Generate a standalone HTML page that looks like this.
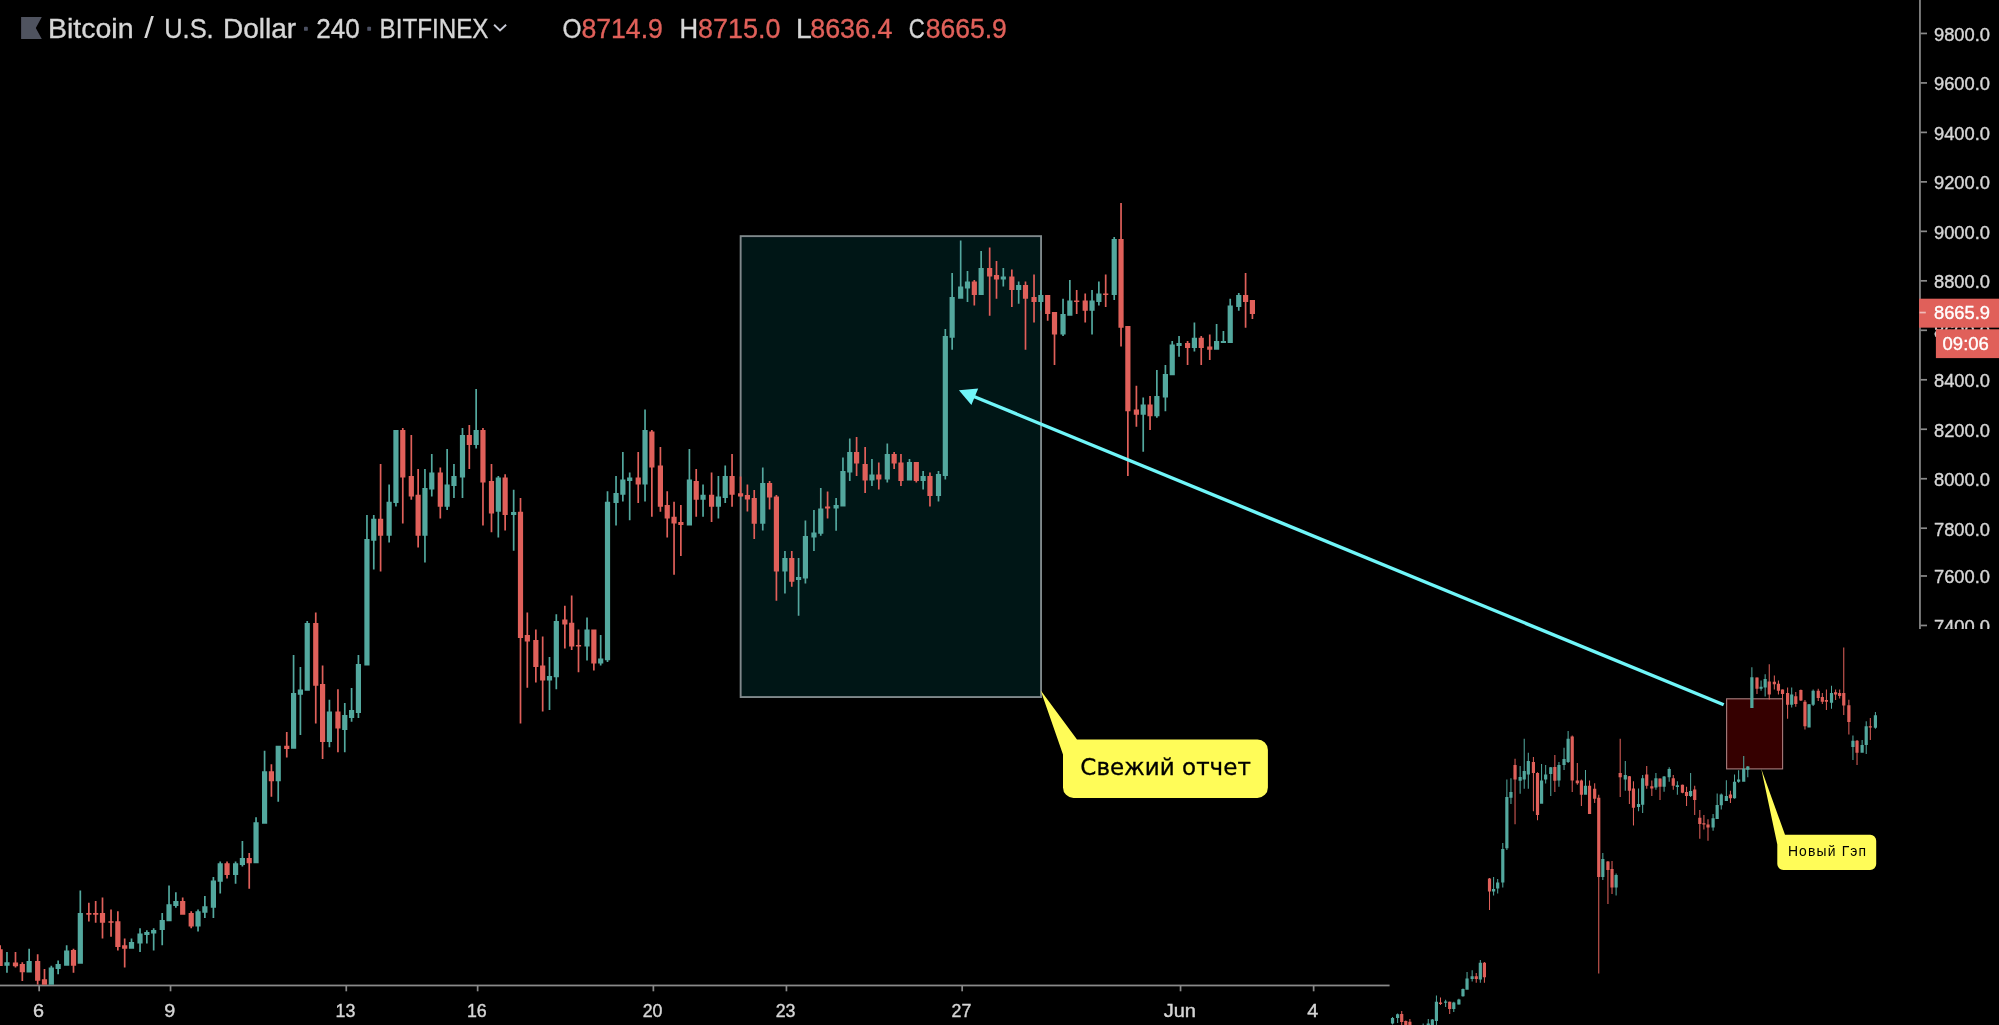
<!DOCTYPE html>
<html><head><meta charset="utf-8"><title>Bitcoin / U.S. Dollar 240 BITFINEX</title>
<style>html,body{margin:0;padding:0;background:#000;width:1999px;height:1025px;overflow:hidden}svg{display:block}text{white-space:pre}</style>
</head><body>
<svg width="1999" height="1025" viewBox="0 0 1999 1025">
<defs><filter id="soft" x="0" y="0" width="1999" height="1025" filterUnits="userSpaceOnUse"><feGaussianBlur stdDeviation="0.5"/></filter><clipPath id="mainclip"><rect x="0" y="0" width="1919" height="984.8"/></clipPath><clipPath id="axclip"><rect x="1900" y="0" width="99" height="628.9"/></clipPath></defs>
<rect width="1999" height="1025" fill="#000"/>
<g filter="url(#soft)">
<g clip-path="url(#axclip)"><rect x="1919.1" y="0" width="1.7" height="629" fill="#8A8A8A"/><rect x="1920.5" y="32.59" width="6.5" height="1.7" fill="#8A8A8A"/><text x="1934.0" y="40.89" font-family="'Liberation Sans', sans-serif" font-size="19" fill="#D6D6D6" text-anchor="start" textLength="56" lengthAdjust="spacingAndGlyphs" stroke="#D6D6D6" stroke-width="0.4">9800.0</text>
<rect x="1920.5" y="82.07" width="6.5" height="1.7" fill="#8A8A8A"/><text x="1934.0" y="90.37" font-family="'Liberation Sans', sans-serif" font-size="19" fill="#D6D6D6" text-anchor="start" textLength="56" lengthAdjust="spacingAndGlyphs" stroke="#D6D6D6" stroke-width="0.4">9600.0</text>
<rect x="1920.5" y="131.54" width="6.5" height="1.7" fill="#8A8A8A"/><text x="1934.0" y="139.84" font-family="'Liberation Sans', sans-serif" font-size="19" fill="#D6D6D6" text-anchor="start" textLength="56" lengthAdjust="spacingAndGlyphs" stroke="#D6D6D6" stroke-width="0.4">9400.0</text>
<rect x="1920.5" y="181.02" width="6.5" height="1.7" fill="#8A8A8A"/><text x="1934.0" y="189.32" font-family="'Liberation Sans', sans-serif" font-size="19" fill="#D6D6D6" text-anchor="start" textLength="56" lengthAdjust="spacingAndGlyphs" stroke="#D6D6D6" stroke-width="0.4">9200.0</text>
<rect x="1920.5" y="230.50" width="6.5" height="1.7" fill="#8A8A8A"/><text x="1934.0" y="238.80" font-family="'Liberation Sans', sans-serif" font-size="19" fill="#D6D6D6" text-anchor="start" textLength="56" lengthAdjust="spacingAndGlyphs" stroke="#D6D6D6" stroke-width="0.4">9000.0</text>
<rect x="1920.5" y="279.97" width="6.5" height="1.7" fill="#8A8A8A"/><text x="1934.0" y="288.27" font-family="'Liberation Sans', sans-serif" font-size="19" fill="#D6D6D6" text-anchor="start" textLength="56" lengthAdjust="spacingAndGlyphs" stroke="#D6D6D6" stroke-width="0.4">8800.0</text>
<rect x="1920.5" y="329.45" width="6.5" height="1.7" fill="#8A8A8A"/><text x="1934.0" y="337.75" font-family="'Liberation Sans', sans-serif" font-size="19" fill="#D6D6D6" text-anchor="start" textLength="56" lengthAdjust="spacingAndGlyphs" stroke="#D6D6D6" stroke-width="0.4">8600.0</text>
<rect x="1920.5" y="378.93" width="6.5" height="1.7" fill="#8A8A8A"/><text x="1934.0" y="387.23" font-family="'Liberation Sans', sans-serif" font-size="19" fill="#D6D6D6" text-anchor="start" textLength="56" lengthAdjust="spacingAndGlyphs" stroke="#D6D6D6" stroke-width="0.4">8400.0</text>
<rect x="1920.5" y="428.40" width="6.5" height="1.7" fill="#8A8A8A"/><text x="1934.0" y="436.70" font-family="'Liberation Sans', sans-serif" font-size="19" fill="#D6D6D6" text-anchor="start" textLength="56" lengthAdjust="spacingAndGlyphs" stroke="#D6D6D6" stroke-width="0.4">8200.0</text>
<rect x="1920.5" y="477.88" width="6.5" height="1.7" fill="#8A8A8A"/><text x="1934.0" y="486.18" font-family="'Liberation Sans', sans-serif" font-size="19" fill="#D6D6D6" text-anchor="start" textLength="56" lengthAdjust="spacingAndGlyphs" stroke="#D6D6D6" stroke-width="0.4">8000.0</text>
<rect x="1920.5" y="527.36" width="6.5" height="1.7" fill="#8A8A8A"/><text x="1934.0" y="535.66" font-family="'Liberation Sans', sans-serif" font-size="19" fill="#D6D6D6" text-anchor="start" textLength="56" lengthAdjust="spacingAndGlyphs" stroke="#D6D6D6" stroke-width="0.4">7800.0</text>
<rect x="1920.5" y="575.13" width="6.5" height="1.7" fill="#8A8A8A"/><text x="1934.0" y="583.43" font-family="'Liberation Sans', sans-serif" font-size="19" fill="#D6D6D6" text-anchor="start" textLength="56" lengthAdjust="spacingAndGlyphs" stroke="#D6D6D6" stroke-width="0.4">7600.0</text>
<rect x="1920.5" y="624.61" width="6.5" height="1.7" fill="#8A8A8A"/><text x="1934.0" y="632.91" font-family="'Liberation Sans', sans-serif" font-size="19" fill="#D6D6D6" text-anchor="start" textLength="56" lengthAdjust="spacingAndGlyphs" stroke="#D6D6D6" stroke-width="0.4">7400.0</text>
</g><rect x="1919.1" y="298.7" width="80" height="28.95" fill="#E0605A"/><rect x="1919.6" y="311.7" width="6.2" height="1.7" fill="#F0BCB9"/><text x="1934.0" y="319.0" font-family="'Liberation Sans', sans-serif" font-size="19" fill="#FFFFFF" text-anchor="start" textLength="56" lengthAdjust="spacingAndGlyphs" stroke="#FFFFFF" stroke-width="0.4">8665.9</text>
<rect x="1935.9" y="329.3" width="64" height="28.8" fill="#E0605A"/><text x="1942.6" y="350.0" font-family="'Liberation Sans', sans-serif" font-size="19" fill="#FFFFFF" text-anchor="start" textLength="46.2" lengthAdjust="spacingAndGlyphs" stroke="#FFFFFF" stroke-width="0.4">09:06</text>
<rect x="0" y="984.6" width="1389.6" height="1.75" fill="#8A8A8A"/><rect x="38.32" y="985" width="1.7" height="6.3" fill="#8A8A8A"/><text x="38.4" y="1017.0" font-family="'Liberation Sans', sans-serif" font-size="18.6" fill="#D6D6D6" text-anchor="middle" textLength="11" lengthAdjust="spacingAndGlyphs" stroke="#D6D6D6" stroke-width="0.4">6</text>
<rect x="169.69" y="985" width="1.7" height="6.3" fill="#8A8A8A"/><text x="169.7" y="1017.0" font-family="'Liberation Sans', sans-serif" font-size="18.6" fill="#D6D6D6" text-anchor="middle" textLength="11" lengthAdjust="spacingAndGlyphs" stroke="#D6D6D6" stroke-width="0.4">9</text>
<rect x="345.42" y="985" width="1.7" height="6.3" fill="#8A8A8A"/><text x="345.5" y="1017.0" font-family="'Liberation Sans', sans-serif" font-size="18.6" fill="#D6D6D6" text-anchor="middle" textLength="19.8" lengthAdjust="spacingAndGlyphs" stroke="#D6D6D6" stroke-width="0.4">13</text>
<rect x="476.79" y="985" width="1.7" height="6.3" fill="#8A8A8A"/><text x="476.8" y="1017.0" font-family="'Liberation Sans', sans-serif" font-size="18.6" fill="#D6D6D6" text-anchor="middle" textLength="19.8" lengthAdjust="spacingAndGlyphs" stroke="#D6D6D6" stroke-width="0.4">16</text>
<rect x="652.52" y="985" width="1.7" height="6.3" fill="#8A8A8A"/><text x="652.6" y="1017.0" font-family="'Liberation Sans', sans-serif" font-size="18.6" fill="#D6D6D6" text-anchor="middle" textLength="19.8" lengthAdjust="spacingAndGlyphs" stroke="#D6D6D6" stroke-width="0.4">20</text>
<rect x="785.59" y="985" width="1.7" height="6.3" fill="#8A8A8A"/><text x="785.6" y="1017.0" font-family="'Liberation Sans', sans-serif" font-size="18.6" fill="#D6D6D6" text-anchor="middle" textLength="19.8" lengthAdjust="spacingAndGlyphs" stroke="#D6D6D6" stroke-width="0.4">23</text>
<rect x="961.32" y="985" width="1.7" height="6.3" fill="#8A8A8A"/><text x="961.4" y="1017.0" font-family="'Liberation Sans', sans-serif" font-size="18.6" fill="#D6D6D6" text-anchor="middle" textLength="19.8" lengthAdjust="spacingAndGlyphs" stroke="#D6D6D6" stroke-width="0.4">27</text>
<rect x="1179.70" y="985" width="1.7" height="6.3" fill="#8A8A8A"/><text x="1179.8" y="1017.0" font-family="'Liberation Sans', sans-serif" font-size="18.6" fill="#D6D6D6" text-anchor="middle" textLength="32.3" lengthAdjust="spacingAndGlyphs" stroke="#D6D6D6" stroke-width="0.4">Jun</text>
<rect x="1312.78" y="985" width="1.7" height="6.3" fill="#8A8A8A"/><text x="1312.8" y="1017.0" font-family="'Liberation Sans', sans-serif" font-size="18.6" fill="#D6D6D6" text-anchor="middle" textLength="11" lengthAdjust="spacingAndGlyphs" stroke="#D6D6D6" stroke-width="0.4">4</text>
<path d="M21.1 17.1H41.8L35.8 28.1L41.8 39H21.1z" fill="#50525F"/><text x="48.0" y="37.6" font-family="'Liberation Sans', sans-serif" font-size="27.5" fill="#D6D6D6" text-anchor="start" textLength="85.5" lengthAdjust="spacingAndGlyphs" stroke="#D6D6D6" stroke-width="0.35">Bitcoin</text>
<text x="144.3" y="38.2" font-family="'Liberation Sans', sans-serif" font-size="30" fill="#D6D6D6" text-anchor="start" textLength="9.6" lengthAdjust="spacingAndGlyphs">/</text>
<text x="164.2" y="37.6" font-family="'Liberation Sans', sans-serif" font-size="27.5" fill="#D6D6D6" text-anchor="start" textLength="49.5" lengthAdjust="spacingAndGlyphs" stroke="#D6D6D6" stroke-width="0.35">U.S.</text>
<text x="222.9" y="37.6" font-family="'Liberation Sans', sans-serif" font-size="27.5" fill="#D6D6D6" text-anchor="start" textLength="73.3" lengthAdjust="spacingAndGlyphs" stroke="#D6D6D6" stroke-width="0.35">Dollar</text>
<text x="302.2" y="35.1" font-family="'Liberation Sans', sans-serif" font-size="22" fill="#4C5163" text-anchor="start" stroke="#4C5163" stroke-width="1.7" stroke-linejoin="round">·</text>
<text x="316.2" y="37.6" font-family="'Liberation Sans', sans-serif" font-size="27.5" fill="#D6D6D6" text-anchor="start" textLength="43.5" lengthAdjust="spacingAndGlyphs" stroke="#D6D6D6" stroke-width="0.35">240</text>
<text x="365.55" y="35.0" font-family="'Liberation Sans', sans-serif" font-size="22" fill="#4C5163" text-anchor="start" stroke="#4C5163" stroke-width="1.7" stroke-linejoin="round">·</text>
<text x="379.5" y="37.6" font-family="'Liberation Sans', sans-serif" font-size="27.5" fill="#D6D6D6" text-anchor="start" textLength="109" lengthAdjust="spacingAndGlyphs" stroke="#D6D6D6" stroke-width="0.35">BITFINEX</text>
<path d="M494.1 24.8L500 30.5L506.1 24.8" stroke="#C8CAD6" stroke-width="1.9" fill="none"/><text x="562.6" y="37.6" font-family="'Liberation Sans', sans-serif" font-size="27.5" fill="#D6D6D6" text-anchor="start" textLength="19.0" lengthAdjust="spacingAndGlyphs" stroke="#D6D6D6" stroke-width="0.35">O</text>
<text x="581.4" y="37.6" font-family="'Liberation Sans', sans-serif" font-size="27.5" fill="#E0605A" text-anchor="start" textLength="81.5" lengthAdjust="spacingAndGlyphs" stroke="#E0605A" stroke-width="0.35">8714.9</text>
<text x="679.6" y="37.6" font-family="'Liberation Sans', sans-serif" font-size="27.5" fill="#D6D6D6" text-anchor="start" textLength="18.6" lengthAdjust="spacingAndGlyphs" stroke="#D6D6D6" stroke-width="0.35">H</text>
<text x="698.1" y="37.6" font-family="'Liberation Sans', sans-serif" font-size="27.5" fill="#E0605A" text-anchor="start" textLength="82.4" lengthAdjust="spacingAndGlyphs" stroke="#E0605A" stroke-width="0.35">8715.0</text>
<text x="796.0" y="37.6" font-family="'Liberation Sans', sans-serif" font-size="27.5" fill="#D6D6D6" text-anchor="start" textLength="15.6" lengthAdjust="spacingAndGlyphs" stroke="#D6D6D6" stroke-width="0.35">L</text>
<text x="810.2" y="37.6" font-family="'Liberation Sans', sans-serif" font-size="27.5" fill="#E0605A" text-anchor="start" textLength="82.2" lengthAdjust="spacingAndGlyphs" stroke="#E0605A" stroke-width="0.35">8636.4</text>
<text x="908.8" y="37.6" font-family="'Liberation Sans', sans-serif" font-size="27.5" fill="#D6D6D6" text-anchor="start" textLength="16.0" lengthAdjust="spacingAndGlyphs" stroke="#D6D6D6" stroke-width="0.35">C</text>
<text x="925.7" y="37.6" font-family="'Liberation Sans', sans-serif" font-size="27.5" fill="#E0605A" text-anchor="start" textLength="81.2" lengthAdjust="spacingAndGlyphs" stroke="#E0605A" stroke-width="0.35">8665.9</text>
<rect x="740.65" y="236.15" width="300.4" height="460.9" fill="#031214" stroke="#7F898B" stroke-width="1.9"/><g clip-path="url(#mainclip)"><path fill="#52A89E" d="M6.11 952.1h1.7V972.7h-1.7zM28.29 948.7h1.7V972.5h-1.7zM50.47 965.8h1.7V988.8h-1.7zM57.29 960.6h1.7V974.3h-1.7zM65.82 945.3h1.7V965.8h-1.7zM79.47 890.6h1.7V963.8h-1.7zM130.66 938.6h1.7V948.7h-1.7zM139.19 928.2h1.7V952.1h-1.7zM146.01 930.2h1.7V943.5h-1.7zM152.83 928.2h1.7V950.5h-1.7zM161.37 913.1h1.7V945.3h-1.7zM168.19 885.4h1.7V921.3h-1.7zM175.01 892.2h1.7V907.8h-1.7zM197.19 909.4h1.7V931.6h-1.7zM204.02 895.9h1.7V917.9h-1.7zM212.55 876.9h1.7V917.9h-1.7zM219.37 861.6h1.7V893.4h-1.7zM234.73 861.6h1.7V883.7h-1.7zM241.55 841.0h1.7V866.5h-1.7zM255.20 817.2h1.7V863.3h-1.7zM263.73 750.7h1.7V823.8h-1.7zM277.38 745.8h1.7V801.8h-1.7zM292.73 655.0h1.7V748.7h-1.7zM299.56 667.0h1.7V735.1h-1.7zM306.38 621.0h1.7V690.7h-1.7zM328.56 699.7h1.7V747.3h-1.7zM343.92 703.1h1.7V752.3h-1.7zM350.74 687.9h1.7V721.7h-1.7zM357.57 655.0h1.7V718.1h-1.7zM366.10 515.1h1.7V665.4h-1.7zM372.92 515.1h1.7V569.5h-1.7zM388.28 484.4h1.7V542.5h-1.7zM395.10 430.0h1.7V506.5h-1.7zM424.10 469.0h1.7V562.5h-1.7zM430.93 454.0h1.7V496.5h-1.7zM446.28 449.0h1.7V510.1h-1.7zM453.11 464.0h1.7V498.1h-1.7zM461.64 428.0h1.7V498.1h-1.7zM475.29 389.0h1.7V448.6h-1.7zM497.47 476.0h1.7V537.5h-1.7zM512.82 489.7h1.7V550.7h-1.7zM548.65 657.0h1.7V709.9h-1.7zM555.47 614.2h1.7V689.3h-1.7zM586.18 617.6h1.7V660.4h-1.7zM599.83 635.0h1.7V665.4h-1.7zM606.66 491.3h1.7V662.0h-1.7zM615.19 476.0h1.7V525.5h-1.7zM622.01 452.0h1.7V501.5h-1.7zM628.84 472.6h1.7V520.3h-1.7zM644.19 409.4h1.7V501.5h-1.7zM688.55 449.0h1.7V525.5h-1.7zM702.20 484.4h1.7V516.7h-1.7zM717.55 476.0h1.7V518.5h-1.7zM724.38 465.6h1.7V503.1h-1.7zM761.91 467.4h1.7V530.5h-1.7zM784.09 551.1h1.7V593.5h-1.7zM797.74 558.1h1.7V615.7h-1.7zM804.56 520.5h1.7V583.5h-1.7zM813.10 510.0h1.7V551.1h-1.7zM819.92 488.0h1.7V535.7h-1.7zM835.27 498.0h1.7V530.7h-1.7zM842.10 457.4h1.7V506.6h-1.7zM848.92 438.4h1.7V481.0h-1.7zM871.10 459.0h1.7V486.0h-1.7zM886.46 443.6h1.7V482.6h-1.7zM908.64 459.0h1.7V480.6h-1.7zM922.29 471.0h1.7V489.6h-1.7zM937.64 471.0h1.7V501.6h-1.7zM944.47 329.1h1.7V479.4h-1.7zM951.29 273.0h1.7V349.7h-1.7zM959.82 240.6h1.7V298.7h-1.7zM966.64 271.0h1.7V302.1h-1.7zM980.29 251.0h1.7V295.1h-1.7zM1002.47 268.0h1.7V286.6h-1.7zM1017.83 281.6h1.7V303.7h-1.7zM1040.01 290.0h1.7V310.5h-1.7zM1062.19 298.7h1.7V336.1h-1.7zM1069.01 280.0h1.7V315.7h-1.7zM1091.19 290.0h1.7V334.5h-1.7zM1098.01 281.6h1.7V305.5h-1.7zM1113.37 237.0h1.7V300.1h-1.7zM1142.37 397.6h1.7V451.8h-1.7zM1156.02 370.1h1.7V417.7h-1.7zM1164.55 365.1h1.7V411.2h-1.7zM1171.38 341.1h1.7V375.3h-1.7zM1178.20 336.1h1.7V356.7h-1.7zM1193.56 322.5h1.7V351.5h-1.7zM1215.74 324.1h1.7V349.7h-1.7zM1222.56 331.1h1.7V343.1h-1.7zM1229.38 298.7h1.7V343.1h-1.7zM1237.91 293.0h1.7V310.7h-1.7zM4.36 962.2h5.2V965.8h-5.2zM26.54 960.9h5.2V972.5h-5.2zM48.72 967.5h5.2V988.8h-5.2zM55.54 964.1h5.2V969.0h-5.2zM64.07 950.5h5.2V965.8h-5.2zM77.72 913.1h5.2V963.8h-5.2zM128.91 942.1h5.2V948.7h-5.2zM137.44 933.4h5.2V943.5h-5.2zM144.26 932.0h5.2V935.0h-5.2zM151.08 930.0h5.2V933.4h-5.2zM159.62 919.9h5.2V930.0h-5.2zM166.44 904.3h5.2V921.3h-5.2zM173.26 901.0h5.2V905.9h-5.2zM195.44 911.2h5.2V926.5h-5.2zM202.27 906.2h5.2V912.8h-5.2zM210.80 880.4h5.2V907.8h-5.2zM217.62 863.3h5.2V881.8h-5.2zM232.98 863.3h5.2V875.0h-5.2zM239.80 858.1h5.2V864.9h-5.2zM253.45 822.2h5.2V863.3h-5.2zM261.98 771.2h5.2V823.8h-5.2zM275.63 745.8h5.2V781.3h-5.2zM290.98 693.1h5.2V748.7h-5.2zM297.81 689.5h5.2V694.7h-5.2zM304.63 623.0h5.2V690.7h-5.2zM326.81 711.5h5.2V741.9h-5.2zM342.17 715.1h5.2V729.9h-5.2zM348.99 710.1h5.2V718.1h-5.2zM355.82 664.0h5.2V713.1h-5.2zM364.35 539.1h5.2V665.4h-5.2zM371.17 518.7h5.2V540.7h-5.2zM386.53 501.7h5.2V535.7h-5.2zM393.35 430.0h5.2V503.1h-5.2zM422.35 487.9h5.2V535.7h-5.2zM429.18 472.6h5.2V489.5h-5.2zM444.53 484.4h5.2V506.7h-5.2zM451.36 476.0h5.2V486.1h-5.2zM459.89 435.0h5.2V477.6h-5.2zM473.54 430.0h5.2V445.0h-5.2zM495.72 477.6h5.2V511.7h-5.2zM511.07 512.1h5.2V515.1h-5.2zM546.90 676.0h5.2V680.6h-5.2zM553.72 621.0h5.2V677.2h-5.2zM584.43 629.6h5.2V646.6h-5.2zM598.08 658.6h5.2V663.6h-5.2zM604.91 501.7h5.2V660.2h-5.2zM613.44 493.1h5.2V503.1h-5.2zM620.26 479.4h5.2V494.7h-5.2zM627.09 477.6h5.2V481.0h-5.2zM642.44 430.0h5.2V484.4h-5.2zM686.80 479.4h5.2V525.5h-5.2zM700.45 494.7h5.2V499.7h-5.2zM715.80 496.5h5.2V506.7h-5.2zM722.63 476.0h5.2V498.1h-5.2zM760.16 483.0h5.2V523.7h-5.2zM782.34 558.1h5.2V571.5h-5.2zM795.99 577.1h5.2V580.1h-5.2zM802.81 536.1h5.2V578.5h-5.2zM811.35 532.5h5.2V537.5h-5.2zM818.17 508.4h5.2V533.7h-5.2zM833.52 505.0h5.2V508.4h-5.2zM840.35 471.0h5.2V506.6h-5.2zM847.17 452.0h5.2V472.6h-5.2zM869.35 474.4h5.2V480.6h-5.2zM884.71 454.0h5.2V479.4h-5.2zM906.89 462.0h5.2V480.6h-5.2zM920.54 476.0h5.2V481.0h-5.2zM935.89 474.0h5.2V496.0h-5.2zM942.72 336.1h5.2V476.0h-5.2zM949.54 297.1h5.2V337.7h-5.2zM958.07 286.6h5.2V298.7h-5.2zM964.89 281.6h5.2V288.4h-5.2zM978.54 268.0h5.2V295.1h-5.2zM1000.72 276.4h5.2V279.6h-5.2zM1016.08 285.0h5.2V290.0h-5.2zM1038.26 295.1h5.2V302.1h-5.2zM1060.44 314.1h5.2V334.5h-5.2zM1067.26 300.5h5.2V315.7h-5.2zM1089.44 300.5h5.2V310.7h-5.2zM1096.26 293.4h5.2V302.1h-5.2zM1111.62 239.0h5.2V295.1h-5.2zM1140.62 404.5h5.2V414.8h-5.2zM1154.27 396.0h5.2V416.2h-5.2zM1162.80 374.0h5.2V397.6h-5.2zM1169.63 344.5h5.2V375.3h-5.2zM1176.45 343.1h5.2V346.1h-5.2zM1191.81 337.7h5.2V348.1h-5.2zM1213.99 341.1h5.2V349.7h-5.2zM1220.81 341.1h5.2V343.1h-5.2zM1227.63 305.5h5.2V343.1h-5.2zM1236.16 295.1h5.2V307.1h-5.2z"/>
<path fill="#E0605A" d="M-0.71 945.3h1.7V965.9h-1.7zM14.64 952.1h1.7V967.5h-1.7zM21.47 962.2h1.7V981.0h-1.7zM36.82 954.2h1.7V984.7h-1.7zM43.64 969.1h1.7V988.8h-1.7zM72.65 948.7h1.7V972.7h-1.7zM88.00 902.7h1.7V921.6h-1.7zM94.83 901.0h1.7V922.8h-1.7zM101.65 897.5h1.7V938.6h-1.7zM110.18 909.4h1.7V936.8h-1.7zM117.01 911.2h1.7V950.5h-1.7zM123.83 938.6h1.7V967.5h-1.7zM181.84 897.5h1.7V914.7h-1.7zM190.37 911.2h1.7V928.2h-1.7zM226.20 861.6h1.7V878.6h-1.7zM248.38 853.1h1.7V888.7h-1.7zM270.56 764.3h1.7V796.8h-1.7zM285.91 732.1h1.7V757.5h-1.7zM314.91 612.6h1.7V723.5h-1.7zM321.74 665.4h1.7V759.1h-1.7zM337.09 689.3h1.7V752.3h-1.7zM379.75 464.0h1.7V571.5h-1.7zM401.93 428.0h1.7V523.5h-1.7zM410.46 435.0h1.7V499.7h-1.7zM417.28 469.0h1.7V547.5h-1.7zM439.46 467.4h1.7V518.5h-1.7zM468.46 425.0h1.7V469.0h-1.7zM482.11 428.0h1.7V525.5h-1.7zM490.64 464.0h1.7V532.3h-1.7zM504.29 474.2h1.7V530.5h-1.7zM519.65 498.1h1.7V723.5h-1.7zM526.47 612.6h1.7V687.7h-1.7zM535.00 629.6h1.7V682.4h-1.7zM541.83 636.4h1.7V711.5h-1.7zM564.00 605.8h1.7V648.4h-1.7zM570.83 595.4h1.7V650.0h-1.7zM577.65 629.6h1.7V672.2h-1.7zM593.01 629.6h1.7V670.6h-1.7zM637.37 452.0h1.7V503.1h-1.7zM651.02 430.0h1.7V516.7h-1.7zM659.55 447.0h1.7V511.7h-1.7zM666.37 491.3h1.7V537.5h-1.7zM673.20 501.7h1.7V574.7h-1.7zM680.02 504.9h1.7V556.1h-1.7zM695.37 469.0h1.7V516.7h-1.7zM710.73 472.6h1.7V521.9h-1.7zM731.20 454.0h1.7V506.7h-1.7zM739.73 476.4h1.7V496.8h-1.7zM746.56 484.6h1.7V511.6h-1.7zM753.38 490.0h1.7V539.1h-1.7zM768.74 481.0h1.7V509.6h-1.7zM775.56 495.0h1.7V600.7h-1.7zM790.92 551.1h1.7V586.7h-1.7zM826.74 491.4h1.7V518.6h-1.7zM855.75 437.0h1.7V476.0h-1.7zM864.28 447.0h1.7V493.0h-1.7zM877.93 462.4h1.7V489.6h-1.7zM893.28 452.0h1.7V469.0h-1.7zM900.11 454.0h1.7V486.0h-1.7zM915.46 462.0h1.7V482.6h-1.7zM929.11 472.6h1.7V506.6h-1.7zM973.47 280.0h1.7V305.5h-1.7zM988.82 247.4h1.7V315.7h-1.7zM995.65 261.0h1.7V298.7h-1.7zM1011.00 269.4h1.7V307.1h-1.7zM1024.65 281.6h1.7V349.7h-1.7zM1033.18 274.6h1.7V322.5h-1.7zM1046.83 295.1h1.7V320.7h-1.7zM1053.66 312.1h1.7V365.1h-1.7zM1075.83 290.0h1.7V314.1h-1.7zM1084.37 293.4h1.7V322.5h-1.7zM1104.84 274.6h1.7V307.1h-1.7zM1120.19 203.0h1.7V346.5h-1.7zM1127.02 326.1h1.7V476.0h-1.7zM1135.55 385.7h1.7V426.8h-1.7zM1149.20 396.0h1.7V429.9h-1.7zM1186.73 341.1h1.7V365.1h-1.7zM1200.38 336.1h1.7V365.1h-1.7zM1208.91 334.5h1.7V360.1h-1.7zM1244.74 273.0h1.7V327.7h-1.7zM1251.56 300.1h1.7V319.1h-1.7zM-2.46 949.3h5.2V965.9h-5.2zM12.89 962.5h5.2V966.2h-5.2zM19.72 964.1h5.2V972.2h-5.2zM35.07 960.9h5.2V980.7h-5.2zM41.89 979.3h5.2V988.8h-5.2zM70.90 950.1h5.2V965.8h-5.2zM86.25 913.1h5.2V914.7h-5.2zM93.08 913.1h5.2V914.7h-5.2zM99.90 913.1h5.2V922.8h-5.2zM108.43 921.3h5.2V922.8h-5.2zM115.26 921.3h5.2V946.9h-5.2zM122.08 945.3h5.2V948.7h-5.2zM180.09 901.0h5.2V914.7h-5.2zM188.62 913.1h5.2V926.6h-5.2zM224.45 863.3h5.2V875.0h-5.2zM246.63 858.1h5.2V863.3h-5.2zM268.81 771.2h5.2V781.3h-5.2zM284.16 745.8h5.2V749.0h-5.2zM313.16 623.0h5.2V685.7h-5.2zM319.99 684.0h5.2V741.9h-5.2zM335.34 711.5h5.2V728.5h-5.2zM378.00 518.7h5.2V535.7h-5.2zM400.18 430.0h5.2V477.6h-5.2zM408.71 476.0h5.2V496.5h-5.2zM415.53 494.7h5.2V535.7h-5.2zM437.71 472.6h5.2V506.7h-5.2zM466.71 435.0h5.2V445.0h-5.2zM480.36 430.0h5.2V482.6h-5.2zM488.89 481.0h5.2V513.5h-5.2zM502.54 477.6h5.2V515.1h-5.2zM517.90 511.7h5.2V638.0h-5.2zM524.72 635.0h5.2V641.6h-5.2zM533.25 640.0h5.2V667.0h-5.2zM540.08 665.4h5.2V680.6h-5.2zM562.25 619.4h5.2V624.4h-5.2zM569.08 622.8h5.2V646.6h-5.2zM575.90 645.0h5.2V646.6h-5.2zM591.26 629.6h5.2V663.6h-5.2zM635.62 477.6h5.2V484.4h-5.2zM649.27 431.6h5.2V467.4h-5.2zM657.80 465.6h5.2V506.7h-5.2zM664.62 504.9h5.2V518.5h-5.2zM671.45 516.7h5.2V523.5h-5.2zM678.27 521.9h5.2V525.1h-5.2zM693.62 481.0h5.2V499.7h-5.2zM708.98 494.7h5.2V506.7h-5.2zM729.45 476.0h5.2V494.7h-5.2zM737.98 493.2h5.2V496.4h-5.2zM744.81 495.0h5.2V499.6h-5.2zM751.63 498.0h5.2V523.7h-5.2zM766.99 483.0h5.2V497.6h-5.2zM773.81 496.4h5.2V571.5h-5.2zM789.17 558.1h5.2V581.7h-5.2zM824.99 506.6h5.2V508.4h-5.2zM854.00 452.0h5.2V463.6h-5.2zM862.53 464.0h5.2V480.6h-5.2zM876.18 474.4h5.2V479.4h-5.2zM891.53 454.0h5.2V463.6h-5.2zM898.36 462.4h5.2V481.0h-5.2zM913.71 462.0h5.2V481.0h-5.2zM927.36 476.0h5.2V496.0h-5.2zM971.72 281.6h5.2V295.1h-5.2zM987.07 268.0h5.2V276.4h-5.2zM993.90 275.0h5.2V279.6h-5.2zM1009.25 276.4h5.2V290.0h-5.2zM1022.90 285.0h5.2V298.7h-5.2zM1031.43 297.1h5.2V302.1h-5.2zM1045.08 295.1h5.2V314.1h-5.2zM1051.91 312.1h5.2V334.5h-5.2zM1074.08 300.5h5.2V302.1h-5.2zM1082.62 300.5h5.2V310.7h-5.2zM1103.09 293.4h5.2V295.1h-5.2zM1118.44 239.0h5.2V327.7h-5.2zM1125.27 326.1h5.2V411.2h-5.2zM1133.80 409.6h5.2V414.8h-5.2zM1147.45 404.5h5.2V416.2h-5.2zM1184.98 343.1h5.2V348.1h-5.2zM1198.63 337.7h5.2V348.1h-5.2zM1207.16 346.5h5.2V349.7h-5.2zM1242.99 295.1h5.2V302.1h-5.2zM1249.81 300.1h5.2V314.1h-5.2z"/>
</g><path d="M1040.6 690.2L1077 739.5H1257.4A10.5 10.5 0 0 1 1267.9 750V787.4A10.5 10.5 0 0 1 1257.4 797.9H1073.5A10.5 10.5 0 0 1 1063 787.4V754.5z" fill="#FFFC58"/><text x="1080.3" y="775.2" font-family="'DejaVu Sans', sans-serif" font-size="23.2" fill="#000" text-anchor="start" textLength="170.5" lengthAdjust="spacingAndGlyphs" stroke="#000" stroke-width="0.3">Свежий отчет</text>
<path d="M1390 986.5V1025H1999V628.9H1915V986.5z" fill="#000"/><rect x="1726.6" y="698.8" width="56.0" height="70.1" fill="#360505" stroke="#A87C7C" stroke-width="1.1"/><path fill="#52A89E" d="M1392.02 1017.0h1.02V1024.5h-1.02zM1397.12 1013.5h1.02V1023.0h-1.02zM1418.56 1030.1h1.02V1055.1h-1.02zM1422.65 1023.5h1.02V1040.1h-1.02zM1427.75 1019.0h1.02V1035.1h-1.02zM1431.83 1019.0h1.02V1030.1h-1.02zM1435.92 995.5h1.02V1027.1h-1.02zM1445.11 999.8h1.02V1007.0h-1.02zM1453.27 1001.8h1.02V1012.0h-1.02zM1458.38 998.8h1.02V1004.8h-1.02zM1462.46 988.5h1.02V996.8h-1.02zM1466.54 972.0h1.02V989.8h-1.02zM1471.65 970.2h1.02V981.5h-1.02zM1479.82 960.0h1.02V982.8h-1.02zM1493.09 877.0h1.02V895.6h-1.02zM1497.17 879.0h1.02V893.6h-1.02zM1502.28 843.0h1.02V887.4h-1.02zM1506.36 779.4h1.02V850.1h-1.02zM1510.44 778.2h1.02V804.0h-1.02zM1519.63 766.0h1.02V793.8h-1.02zM1523.71 738.8h1.02V788.8h-1.02zM1527.80 752.8h1.02V788.8h-1.02zM1541.07 764.0h1.02V803.8h-1.02zM1545.15 765.0h1.02V783.5h-1.02zM1550.26 766.9h1.02V795.9h-1.02zM1558.43 762.1h1.02V786.7h-1.02zM1563.53 747.8h1.02V770.0h-1.02zM1567.61 731.0h1.02V762.9h-1.02zM1584.97 770.0h1.02V794.8h-1.02zM1602.32 853.0h1.02V880.0h-1.02zM1615.59 873.6h1.02V895.6h-1.02zM1624.78 761.0h1.02V790.7h-1.02zM1638.05 788.5h1.02V811.3h-1.02zM1642.14 775.0h1.02V812.9h-1.02zM1655.41 773.1h1.02V789.8h-1.02zM1663.58 776.0h1.02V791.7h-1.02zM1668.68 767.3h1.02V781.7h-1.02zM1676.85 781.3h1.02V794.8h-1.02zM1690.12 773.1h1.02V796.9h-1.02zM1712.58 814.0h1.02V830.7h-1.02zM1716.66 793.5h1.02V819.0h-1.02zM1720.75 793.5h1.02V809.6h-1.02zM1725.85 780.2h1.02V801.0h-1.02zM1734.02 774.4h1.02V798.8h-1.02zM1738.10 770.3h1.02V782.7h-1.02zM1743.21 756.1h1.02V781.7h-1.02zM1747.29 765.9h1.02V777.3h-1.02zM1751.37 667.3h1.02V707.9h-1.02zM1760.56 680.6h1.02V690.7h-1.02zM1764.64 674.3h1.02V696.5h-1.02zM1791.19 687.6h1.02V707.4h-1.02zM1808.54 704.0h1.02V727.4h-1.02zM1812.63 689.6h1.02V705.9h-1.02zM1831.00 685.7h1.02V708.7h-1.02zM1852.44 735.6h1.02V759.9h-1.02zM1861.63 739.9h1.02V752.7h-1.02zM1865.71 721.2h1.02V754.0h-1.02zM1874.90 712.1h1.02V728.7h-1.02zM1390.93 1018.0h3.2V1023.5h-3.2zM1396.03 1014.3h3.2V1018.0h-3.2zM1417.47 1035.1h3.2V1050.1h-3.2zM1421.56 1025.1h3.2V1035.1h-3.2zM1426.66 1023.5h3.2V1030.1h-3.2zM1430.74 1019.5h3.2V1025.1h-3.2zM1434.83 1001.8h3.2V1021.0h-3.2zM1444.02 1001.5h3.2V1002.8h-3.2zM1452.18 1002.5h3.2V1009.0h-3.2zM1457.29 999.5h3.2V1004.5h-3.2zM1461.37 989.0h3.2V996.2h-3.2zM1465.45 978.5h3.2V989.8h-3.2zM1470.56 976.2h3.2V979.0h-3.2zM1478.73 962.8h3.2V979.5h-3.2zM1492.00 889.0h3.2V891.6h-3.2zM1496.08 882.4h3.2V888.6h-3.2zM1501.19 849.0h3.2V882.4h-3.2zM1505.27 796.9h3.2V848.2h-3.2zM1509.35 791.9h3.2V797.8h-3.2zM1518.54 776.9h3.2V780.7h-3.2zM1522.62 771.0h3.2V779.4h-3.2zM1526.71 761.0h3.2V774.4h-3.2zM1539.98 780.4h3.2V803.8h-3.2zM1544.06 774.6h3.2V779.4h-3.2zM1549.17 767.3h3.2V774.1h-3.2zM1557.34 765.0h3.2V780.4h-3.2zM1562.44 759.0h3.2V765.0h-3.2zM1566.52 738.8h3.2V762.1h-3.2zM1583.88 785.7h3.2V794.8h-3.2zM1601.23 859.0h3.2V877.0h-3.2zM1614.50 875.0h3.2V887.6h-3.2zM1623.69 775.0h3.2V779.4h-3.2zM1636.96 804.0h3.2V806.9h-3.2zM1641.05 778.2h3.2V804.7h-3.2zM1654.32 778.2h3.2V787.5h-3.2zM1662.49 776.5h3.2V786.7h-3.2zM1667.59 769.0h3.2V777.3h-3.2zM1675.76 785.3h3.2V786.9h-3.2zM1689.03 791.0h3.2V795.9h-3.2zM1711.49 818.2h3.2V827.6h-3.2zM1715.57 805.0h3.2V819.0h-3.2zM1719.66 794.4h3.2V805.2h-3.2zM1724.76 795.9h3.2V801.0h-3.2zM1732.93 781.7h3.2V798.2h-3.2zM1737.01 779.4h3.2V781.7h-3.2zM1742.12 768.8h3.2V781.7h-3.2zM1746.20 766.5h3.2V769.7h-3.2zM1750.28 677.2h3.2V707.9h-3.2zM1759.47 686.8h3.2V688.7h-3.2zM1763.55 679.0h3.2V687.6h-3.2zM1790.10 694.6h3.2V704.8h-3.2zM1807.45 704.3h3.2V727.4h-3.2zM1811.54 690.7h3.2V704.8h-3.2zM1829.91 693.1h3.2V702.8h-3.2zM1851.35 740.7h3.2V746.9h-3.2zM1860.54 744.9h3.2V752.7h-3.2zM1864.62 726.3h3.2V744.9h-3.2zM1873.81 715.3h3.2V727.7h-3.2z"/>
<path fill="#E0605A" d="M1401.21 1011.0h1.02V1035.1h-1.02zM1405.29 1020.5h1.02V1040.1h-1.02zM1409.38 1019.0h1.02V1045.1h-1.02zM1414.48 1035.1h1.02V1055.1h-1.02zM1440.00 997.5h1.02V1005.0h-1.02zM1449.19 1001.5h1.02V1014.0h-1.02zM1475.73 973.0h1.02V982.8h-1.02zM1483.90 962.0h1.02V982.8h-1.02zM1489.00 878.0h1.02V910.0h-1.02zM1514.53 758.8h1.02V824.2h-1.02zM1532.90 756.9h1.02V811.3h-1.02zM1536.99 772.3h1.02V820.3h-1.02zM1554.34 755.0h1.02V791.9h-1.02zM1571.70 735.6h1.02V791.9h-1.02zM1576.80 762.9h1.02V784.8h-1.02zM1580.88 779.4h1.02V806.0h-1.02zM1589.05 780.4h1.02V814.0h-1.02zM1594.16 783.2h1.02V802.9h-1.02zM1598.24 794.8h1.02V973.6h-1.02zM1607.43 861.0h1.02V904.0h-1.02zM1611.51 861.0h1.02V894.0h-1.02zM1619.68 738.8h1.02V796.9h-1.02zM1628.87 776.0h1.02V804.0h-1.02zM1632.95 781.3h1.02V825.4h-1.02zM1646.22 766.0h1.02V788.8h-1.02zM1651.33 780.4h1.02V795.9h-1.02zM1659.49 778.2h1.02V800.0h-1.02zM1672.76 775.0h1.02V789.8h-1.02zM1681.95 784.4h1.02V793.2h-1.02zM1686.04 786.7h1.02V806.0h-1.02zM1694.20 785.7h1.02V815.0h-1.02zM1699.31 810.0h1.02V838.8h-1.02zM1703.39 815.0h1.02V829.4h-1.02zM1707.48 819.2h1.02V840.7h-1.02zM1729.93 790.8h1.02V803.0h-1.02zM1756.48 677.2h1.02V693.9h-1.02zM1768.73 664.2h1.02V699.6h-1.02zM1773.83 675.6h1.02V689.6h-1.02zM1777.92 680.6h1.02V694.6h-1.02zM1782.00 689.2h1.02V700.1h-1.02zM1787.10 687.6h1.02V718.8h-1.02zM1795.27 692.0h1.02V706.8h-1.02zM1800.38 689.6h1.02V700.9h-1.02zM1804.46 700.1h1.02V729.5h-1.02zM1817.73 688.7h1.02V700.9h-1.02zM1821.81 693.1h1.02V704.0h-1.02zM1825.90 689.6h1.02V709.9h-1.02zM1835.09 689.6h1.02V700.1h-1.02zM1839.17 689.6h1.02V698.5h-1.02zM1843.25 647.5h1.02V714.9h-1.02zM1848.36 699.8h1.02V734.5h-1.02zM1856.52 739.9h1.02V764.9h-1.02zM1869.80 718.1h1.02V739.9h-1.02zM1400.12 1014.0h3.2V1022.0h-3.2zM1404.20 1021.0h3.2V1035.1h-3.2zM1408.29 1021.8h3.2V1040.1h-3.2zM1413.39 1040.1h3.2V1050.1h-3.2zM1438.91 1002.5h3.2V1004.0h-3.2zM1448.10 1001.8h3.2V1009.0h-3.2zM1474.64 976.2h3.2V979.0h-3.2zM1482.81 962.8h3.2V977.2h-3.2zM1487.91 878.4h3.2V891.6h-3.2zM1513.44 765.0h3.2V779.4h-3.2zM1531.81 762.1h3.2V773.1h-3.2zM1535.90 773.1h3.2V815.0h-3.2zM1553.25 766.9h3.2V780.7h-3.2zM1570.61 736.5h3.2V780.4h-3.2zM1575.71 780.4h3.2V783.2h-3.2zM1579.79 780.4h3.2V794.8h-3.2zM1587.96 785.7h3.2V814.0h-3.2zM1593.07 788.8h3.2V798.8h-3.2zM1597.15 797.8h3.2V877.0h-3.2zM1606.34 861.4h3.2V870.0h-3.2zM1610.42 869.0h3.2V887.6h-3.2zM1618.59 773.1h3.2V777.3h-3.2zM1627.78 776.3h3.2V790.7h-3.2zM1631.86 788.5h3.2V807.8h-3.2zM1645.13 774.4h3.2V785.7h-3.2zM1650.24 786.3h3.2V788.5h-3.2zM1658.40 778.5h3.2V786.7h-3.2zM1671.67 778.2h3.2V785.7h-3.2zM1680.86 784.8h3.2V792.8h-3.2zM1684.95 791.9h3.2V795.9h-3.2zM1693.11 789.4h3.2V800.0h-3.2zM1698.22 817.8h3.2V824.0h-3.2zM1702.30 823.2h3.2V824.4h-3.2zM1706.39 824.4h3.2V827.6h-3.2zM1728.84 794.6h3.2V798.2h-3.2zM1755.39 677.5h3.2V688.7h-3.2zM1767.64 681.4h3.2V694.6h-3.2zM1772.74 681.8h3.2V684.2h-3.2zM1776.83 683.7h3.2V690.7h-3.2zM1780.91 689.6h3.2V693.9h-3.2zM1786.01 693.1h3.2V704.8h-3.2zM1794.18 696.2h3.2V704.0h-3.2zM1799.29 690.0h3.2V700.6h-3.2zM1803.37 701.7h3.2V726.3h-3.2zM1816.64 690.7h3.2V698.1h-3.2zM1820.72 697.0h3.2V701.7h-3.2zM1824.81 700.1h3.2V701.7h-3.2zM1834.00 692.3h3.2V694.6h-3.2zM1838.08 693.1h3.2V695.9h-3.2zM1842.16 693.1h3.2V705.6h-3.2zM1847.27 705.3h3.2V722.0h-3.2zM1855.43 740.7h3.2V752.7h-3.2zM1868.71 726.3h3.2V727.5h-3.2z"/>
<path d="M1761.3 769L1785 834.8H1870.2A6 6 0 0 1 1876.2 840.8V864.1A6 6 0 0 1 1870.2 870.1H1783.3A6 6 0 0 1 1777.3 864.1V844.5z" fill="#FFFC58"/><text x="1787.9" y="856.3" font-family="'Liberation Sans', sans-serif" font-size="13.9" fill="#000" textLength="78.2" lengthAdjust="spacing">Новый Гэп</text><path d="M972.0 395.7L1723.7 704.7" stroke="#6FF6F9" stroke-width="3.4" fill="none"/><path d="M958.9 390.3L971.4 405.0L978.2 388.6z" fill="#6FF6F9"/>
</g>
</svg>
</body></html>
